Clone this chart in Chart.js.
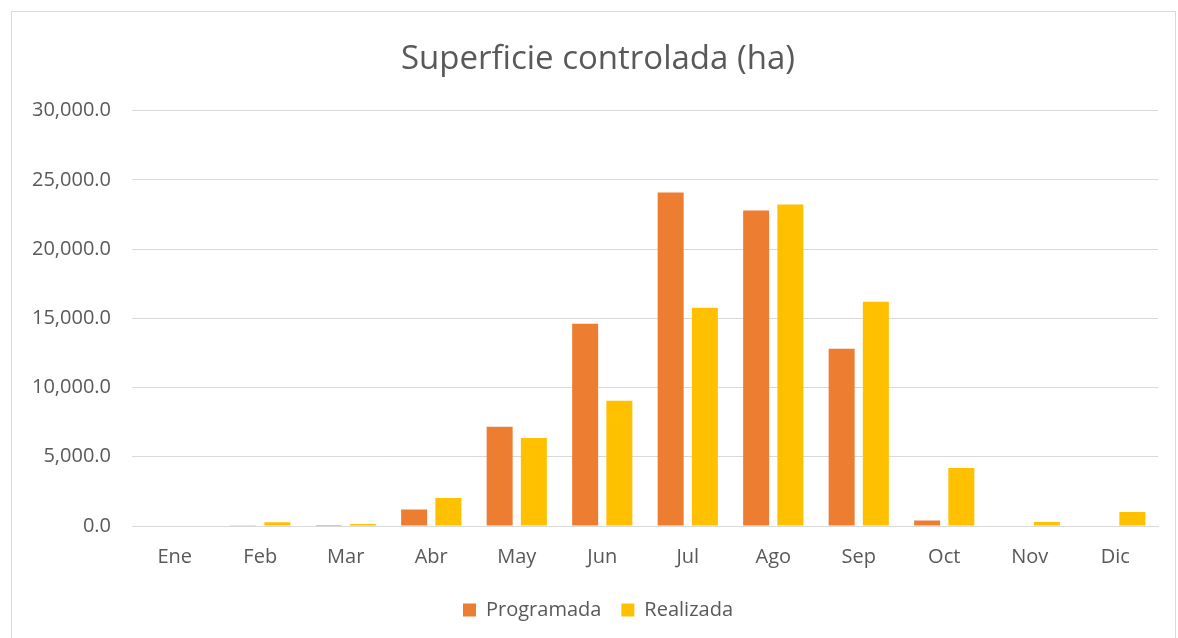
<!DOCTYPE html>
<html>
<head>
<meta charset="utf-8">
<script src="https://cdn.jsdelivr.net/npm/chart.js@4"></script>
<style>
    body { margin: 0; background: #fff; }
    #frame {
        position: absolute;
        left: 11px;
        top: 11px;
        width: 1165px;
        height: 640px;
        border: 1px solid #d9d9d9;
        box-sizing: border-box;
    }
    #wrap { position: absolute; left: 0; top: 0; width: 1178px; height: 638px; }
</style>
</head>
<body>
<div id="frame"></div>
<div id="wrap"><canvas id="chart" width="1178" height="638"></canvas></div>
<script>
    const months = ['Ene', 'Feb', 'Mar', 'Abr', 'May', 'Jun', 'Jul', 'Ago', 'Sep', 'Oct', 'Nov', 'Dic'];
    const programada = [0, 50, 80, 1190, 7160, 14600, 24080, 22780, 12800, 400, 0, 0];
    const realizada = [0, 270, 150, 2030, 6360, 9040, 15760, 23210, 16200, 4190, 290, 1010];

    const FONT = "'Open Sans', sans-serif";
    const TEXT = '#595959';

    new Chart(document.getElementById('chart').getContext('2d'), {
        type: 'bar',
        data: {
            labels: months,
            datasets: [{
                label: 'Programada',
                data: programada,
                backgroundColor: '#ed7d31',
                categoryPercentage: 0.8,
                barPercentage: 0.76
            }, {
                label: 'Realizada',
                data: realizada,
                backgroundColor: '#ffc000',
                categoryPercentage: 0.8,
                barPercentage: 0.76
            }]
        },
        options: {
            responsive: false,
            animation: false,
            layout: { padding: { left: 38, right: 20, top: 40, bottom: 8 } },
            plugins: {
                title: {
                    display: true,
                    text: 'Superficie controlada (ha)',
                    color: TEXT,
                    font: { family: FONT, size: 33, weight: 'normal' },
                    padding: { top: 0, bottom: 31 }
                },
                legend: {
                    position: 'bottom',
                    labels: {
                        color: TEXT,
                        font: { family: FONT, size: 20 },
                        boxWidth: 13,
                        boxHeight: 13,
                        padding: 20
                    }
                },
                tooltip: { enabled: false }
            },
            scales: {
                x: {
                    grid: { display: false },
                    border: { color: '#d9d9d9' },
                    ticks: { color: TEXT, font: { family: FONT, size: 20 }, padding: 11 }
                },
                y: {
                    min: 0,
                    max: 30000,
                    afterFit: scale => {
                        // narrower axis box so the title centres like the original; let labels overflow it
                        scale.width = 94;
                        scale._computeLabelArea = () => undefined;
                    },
                    ticks: {
                        stepSize: 5000,
                        color: TEXT,
                        font: { family: FONT, size: 20 },
                        padding: 21,
                        callback: v => v.toLocaleString('en-US', { minimumFractionDigits: 1, maximumFractionDigits: 1 })
                    },
                    grid: { color: '#d9d9d9', drawTicks: false },
                    border: { display: false }
                }
            }
        }
    });
</script>
</body>
</html>
